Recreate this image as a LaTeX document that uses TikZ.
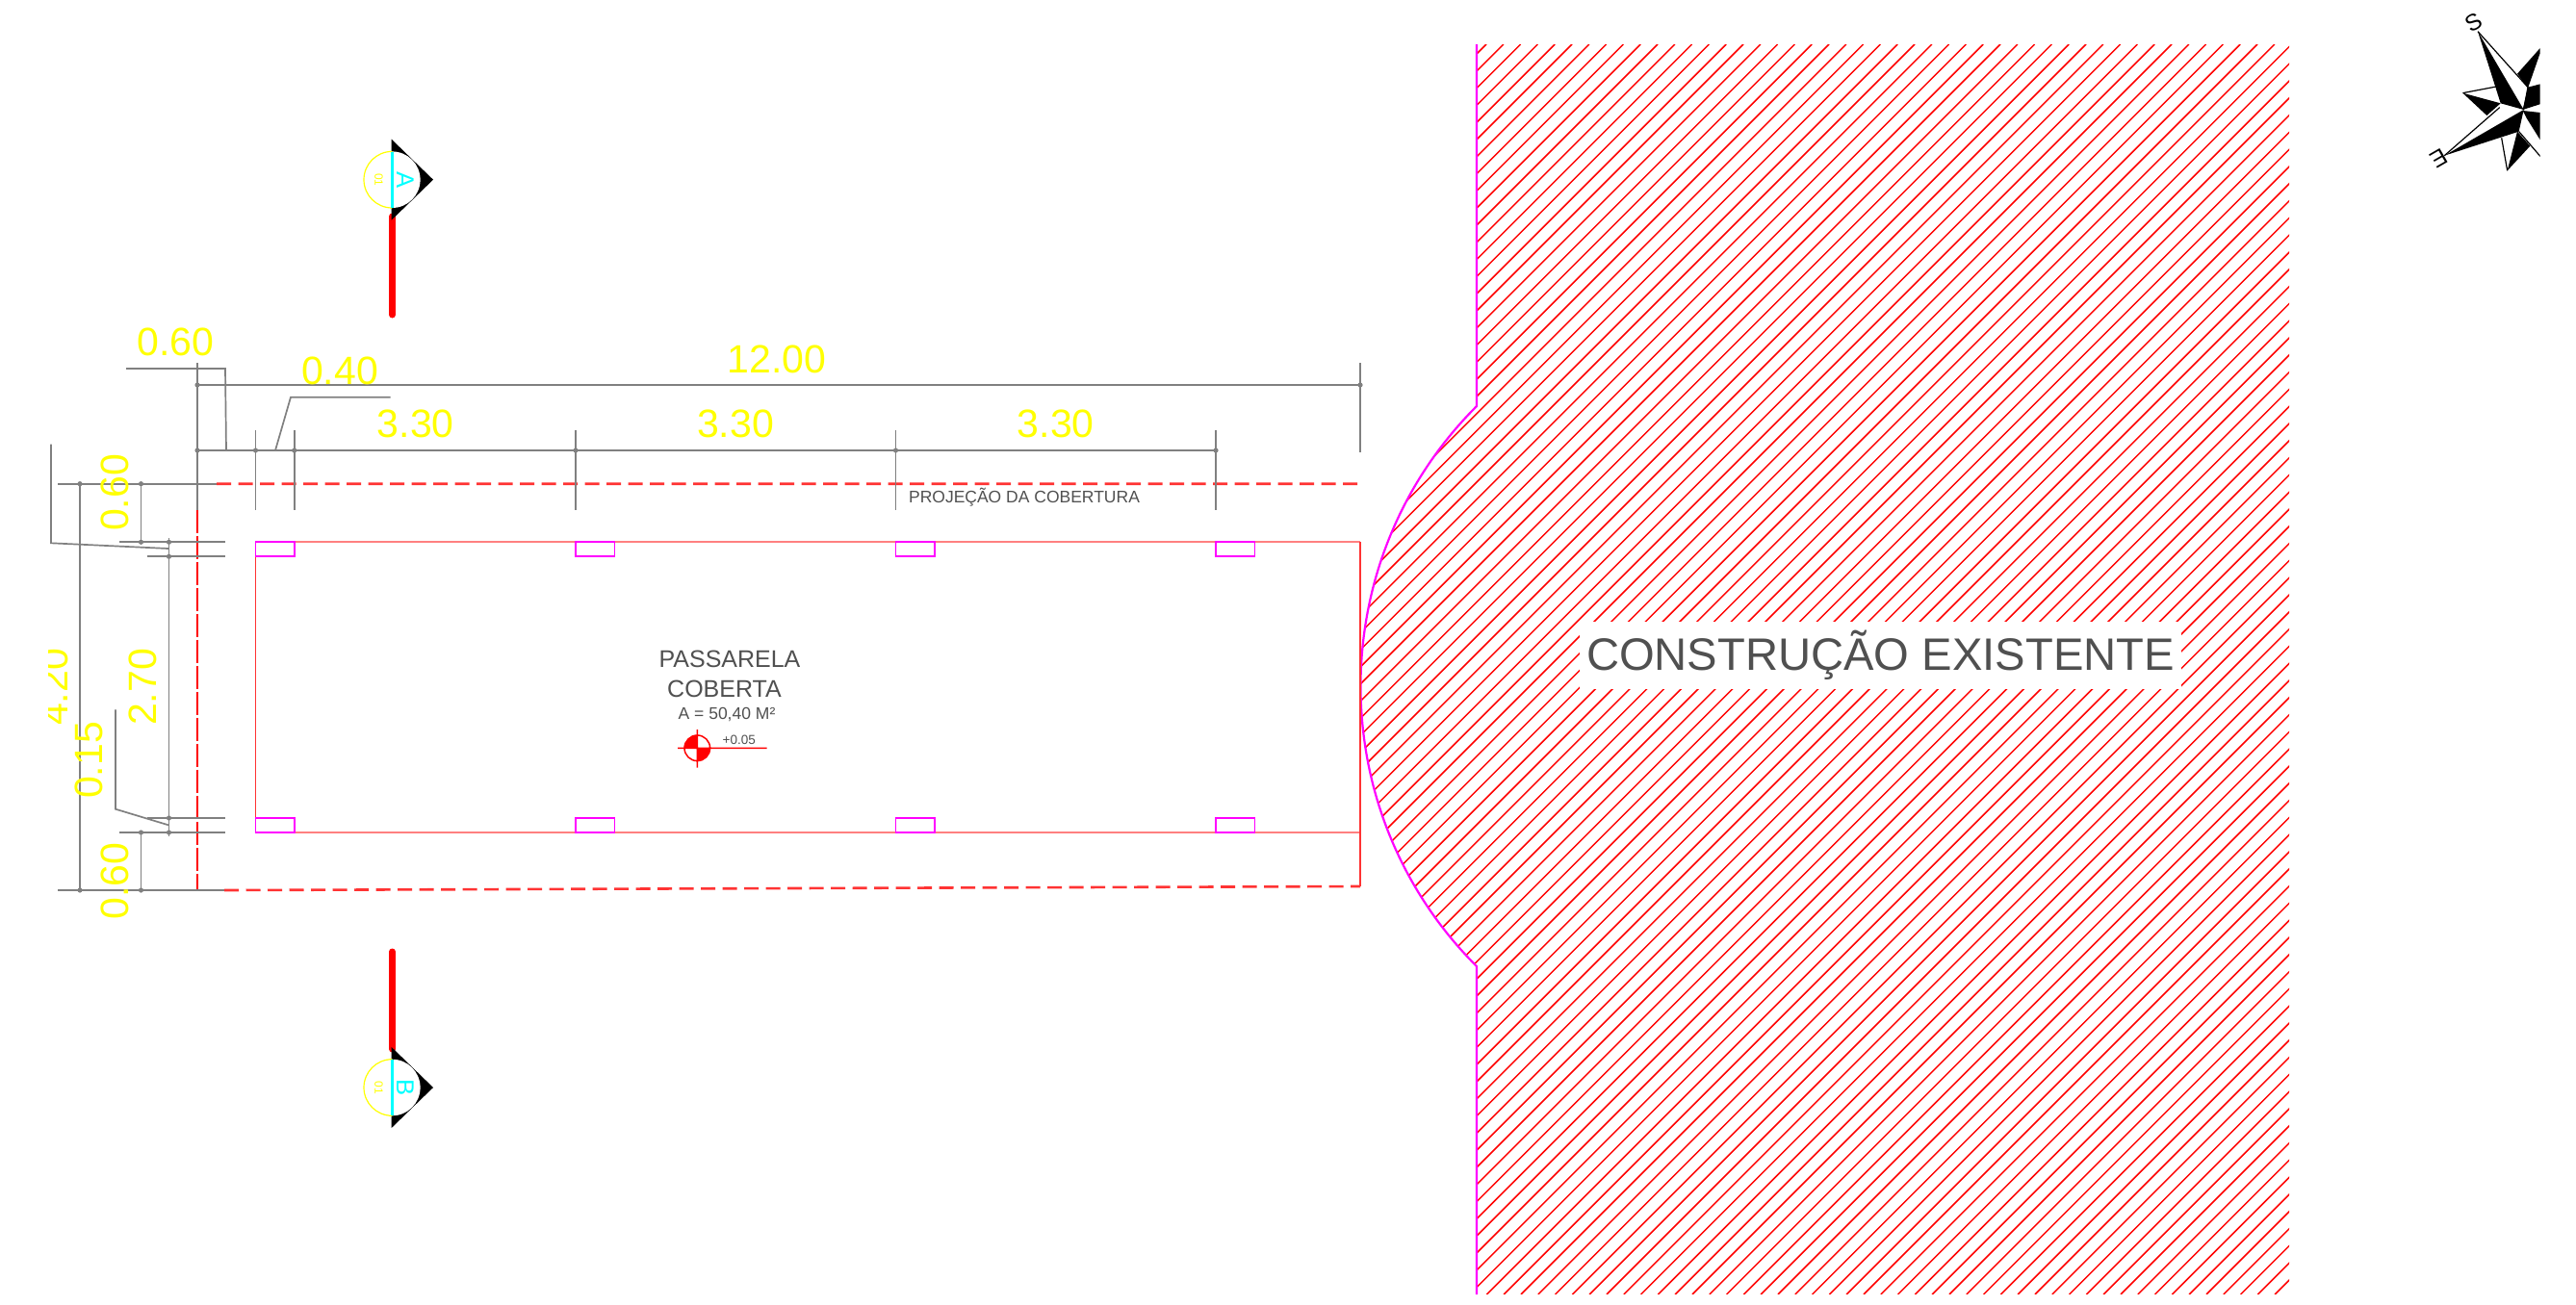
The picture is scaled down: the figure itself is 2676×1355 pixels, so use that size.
\documentclass[tikz,border=0pt]{standalone}
\usepackage{fontspec}
\setmainfont{Liberation Sans}
\definecolor{dimgray}{HTML}{808080}
\definecolor{railred}{HTML}{FF8080}
\definecolor{labelgray}{HTML}{505050}
\definecolor{dimyellow}{HTML}{FFFF00}
\definecolor{markcyan}{HTML}{00FFFF}
\definecolor{wallpink}{HTML}{FF00FF}
\tikzset{
  dimline/.style = {draw=dimgray,line width=1.7pt},
  dimtext/.style = {text=dimyellow,font=\fontsize{41}{41}\selectfont,inner sep=0pt},
  labeltext/.style = {text=labelgray,inner sep=0pt},
  pillar/.style = {draw=wallpink,line width=1.7pt},
  sectionline/.style = {draw=red,line width=7pt,line cap=round}
}
\begin{document}
\begin{tikzpicture}[x=1pt,y=-1pt]
  \useasboundingbox (0,0) rectangle (2676,1355);
  % existing building
  \begin{scope}
    \clip (1534,46) -- (2378,46) -- (2378,1345) -- (1534,1345) -- (1534,1005)
      arc[start angle=135,end angle=225,radius=411.6] -- cycle;
    \foreach \k in {-2,...,122}
      \draw[red,line width=1.5pt] ({1590+17.8*\k-46},46) -- ({1590+17.8*\k-1345},1345);
  \end{scope}
  \draw[wallpink,line width=2.2pt] (1534,46) -- (1534,422)
    arc[start angle=225,end angle=135,radius=411.6] -- (1534,1345);
  \node[labeltext,fill=white,inner xsep=7pt,inner ysep=9pt,font=\fontsize{47.2}{47.2}\selectfont] (building) at (1953.5,681) {CONSTRUÇÃO EXISTENTE};
  % walkway
  \draw[railred,line width=1.7pt] (306,563.3) -- (1413,563.3) (306,865) -- (1413,865);
  \draw[red!80,line width=1.3pt] (265.5,578) -- (265.5,850) (1413,563.3) -- (1413,921);
  \draw[red!80,line width=2.6pt,dash pattern=on 15pt off 7.5pt] (225,502.7) -- (1413,502.7) (233,925) -- (1413,921);
  \draw[red,line width=2pt,dash pattern=on 24pt off 3pt] (205,530) -- (205,925);
  \foreach \px in {265.5,598,930.5,1263} {
    \draw[pillar] (\px,563.3) rectangle +(40.5,15);
    \draw[pillar] (\px,850) rectangle +(40.5,15);
  }
  % dimensions
  \draw[dimline] (205,377) -- (205,530) (205,400) -- (1413,400) (1413,377) -- (1413,470)
    (205,468) -- (1263,468);
  \foreach \px in {265.5,305.7,598,930.5,1263}
    \draw[dimline] (\px,447) -- (\px,530);
  \draw[dimline] (131,383) -- (234,383) -- (235,468);
  \draw[dimline] (286,468) -- (302,412.7) -- (405.5,412.7);
  \draw[dimline] (60,502.7) -- (225,502.7) (60,925) -- (233,925)
    (83,502.7) -- (83,925) (146.5,502.7) -- (146.5,563.3) (146.5,865) -- (146.5,925)
    (175.5,559) -- (175.5,869)
    (124,563.3) -- (233.5,563.3) (152.5,578.3) -- (233.5,578.3)
    (152.5,850) -- (233.5,850) (124,865) -- (233.5,865);
  \draw[dimline] (53,461.7) -- (53,564.3) -- (175,570);
  \draw[dimline] (120,737.3) -- (120,840.7) -- (175,857.3);
  \foreach \px/\py in {205/400,1413/400,205/468,265.5/468,305.7/468,598/468,930.5/468,1263/468,
      83/502.7,146.5/502.7,146.5/563.3,175.5/563.3,175.5/578.3,175.5/850,175.5/865,146.5/865,83/925,146.5/925}
    \fill[dimgray] (\px,\py) circle (2.6pt);
  \node[dimtext] (dimA) at (182.5,355) {0.60};
  \node[dimtext] (dimB) at (353,385.7) {0.40};
  \node[dimtext] (dimC) at (807,373) {12.00};
  \node[dimtext] (dimD) at (431.7,440) {3.30};
  \node[dimtext] (dimE) at (764,440) {3.30};
  \node[dimtext] (dimF) at (1096.7,440) {3.30};
  \node[dimtext,rotate=90] (dimG) at (119,512) {0.60};
  \node[dimtext,rotate=90] (dimH) at (148,714) {2.70};
  \node[dimtext,rotate=90] (dimI) at (92.5,790) {0.15};
  \node[dimtext,rotate=90] (dimJ) at (119,915.7) {0.60};
  \begin{scope}
    \clip (50,650) rectangle (80,780);
    \node[dimtext,rotate=90] (dimK) at (56.7,714) {4.20};
  \end{scope}
  % labels
  \node[labeltext,font=\fontsize{25}{25}\selectfont] (walkA) at (758,685) {PASSARELA};
  \node[labeltext,font=\fontsize{25}{25}\selectfont] (walkB) at (752.5,715.7) {COBERTA};
  \node[labeltext,font=\fontsize{17.5}{17.5}\selectfont] (area) at (755,742) {A = 50,40 M²};
  \node[labeltext,font=\fontsize{17.5}{17.5}\selectfont] (roof) at (1064,517) {PROJEÇÃO DA COBERTURA};
  \node[labeltext,font=\fontsize{13.5}{13.5}\selectfont] (level) at (767.7,769) {+0.05};
  % level mark
  \fill[red] (724.3,777.3) -- (711,777.3) arc[start angle=180,end angle=270,radius=13.3] -- cycle;
  \fill[red] (724.3,777.3) -- (737.6,777.3) arc[start angle=0,end angle=90,radius=13.3] -- cycle;
  \draw[red,line width=1.5pt] (724.3,777.3) circle (13.3pt)
    (704,777.3) -- (796.7,777.3) (724.3,758) -- (724.3,797.7);
  % section marks
  \foreach \sy/\sname/\ya/\yb in {186.7/A/225/327,1130/B/989/1090} {
    \draw[sectionline] (407.5,\ya) -- (407.5,\yb);
    \fill[black] (406.7,\sy-42) -- (450,\sy) -- (406.7,\sy+42) -- cycle;
    \fill[white] (407.3,\sy) circle (29.3pt);
    \draw[dimyellow,line width=1.2pt] (407.3,\sy-29.3) arc[start angle=270,end angle=90,radius=29.3];
    \draw[markcyan,line width=2.8pt] (407.5,\sy-29) -- (407.5,\sy+29);
    \node[text=markcyan,rotate=-90,inner sep=0pt,font=\fontsize{25.6}{25.6}\selectfont] (mark\sname) at (421,\sy) {\sname};
    \node[text=dimyellow,rotate=-90,inner sep=0pt,font=\fontsize{12}{12}\selectfont] (sheet\sname) at (393.5,\sy) {01};
  }
  % compass
  \begin{scope}[shift={(2500,0)},x=0.3333pt,y=-0.3333pt]
    \clip (0,0) rectangle (416,600);
    \fill[black] (222,98) -- (293,322) -- (365,342) -- cycle;
    \fill[black] (175,290) -- (293,322) -- (250,360) -- cycle;
    \fill[black] (118,485) -- (365,342) -- (350,410) -- cycle;
    \fill[black] (314,532) -- (345,410) -- (385,455) -- cycle;
    \fill[black] (345,230) -- (425,140) -- (378,275) -- cycle;
    \fill[black] (378,272) -- (425,260) -- (425,322) -- (362,342) -- cycle;
    \fill[black] (362,345) -- (425,352) -- (425,450) -- (375,370) -- cycle;
    \draw[black,line width=1.2pt] (222,98) -- (378,272) -- (365,342)
      (175,290) -- (280,270) (118,485) -- (290,335)
      (296,430) -- (314,532) (350,410) -- (425,497);
    \node[inner sep=0pt,rotate=30,font=\fontsize{24}{24}\selectfont] (south) at (208,70) {S};
    \node[inner sep=0pt,rotate=210,font=\fontsize{24}{24}\selectfont] (east) at (100,495) {E};
  \end{scope}
\end{tikzpicture}
\end{document}
